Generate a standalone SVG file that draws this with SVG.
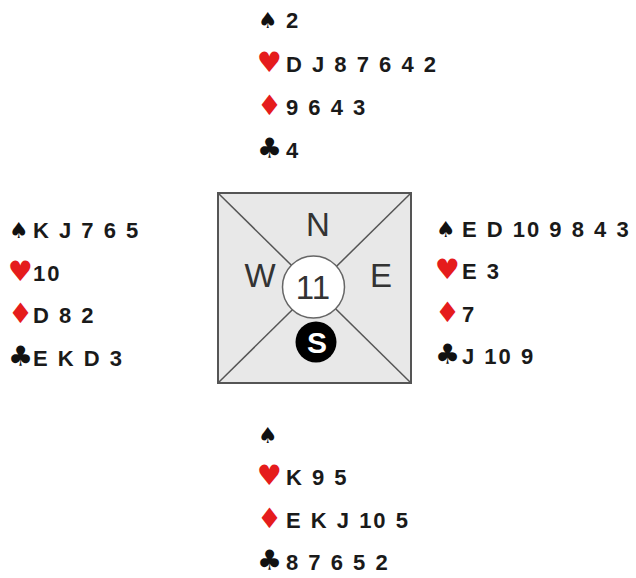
<svg xmlns="http://www.w3.org/2000/svg" width="636" height="578" viewBox="0 0 636 578">
<style>
.card{font-family:"Liberation Sans",Arial,sans-serif;font-weight:bold;font-size:22px;letter-spacing:2px;fill:#1a1a1a}
.suit{font-family:"DejaVu Sans","Liberation Sans",sans-serif;font-size:28px}
.sp{font-size:22px}
.blk{fill:#111}
.red{fill:#e51c1c}
.big{font-family:"Liberation Sans",Arial,sans-serif;font-size:33px;fill:#333}
.diag{stroke:#555;stroke-width:1.5}
</style>
<rect width="636" height="578" fill="#fff"/>
<g id="table">
<rect x="218" y="193" width="193" height="190" fill="#e8e8e8" stroke="#555" stroke-width="2"/>
<g id="connectors">
<line class="diag" x1="218" y1="193" x2="411" y2="383"/>
<line class="diag" x1="411" y1="193" x2="218" y2="383"/>
</g>
<circle cx="313.5" cy="287" r="31" fill="#fff" stroke="#666" stroke-width="1.5"/>
<text class="big" x="318" y="236" text-anchor="middle">N</text>
<text class="big" x="260" y="287" text-anchor="middle">W</text>
<text class="big" x="381" y="287" text-anchor="middle">E</text>
<text class="big" x="313" y="299" text-anchor="middle">11</text>
<circle cx="316" cy="342" r="20.5" fill="#000"/>
<text x="317" y="353" text-anchor="middle" font-family="Liberation Sans,Arial,sans-serif" font-weight="bold" font-size="30" fill="#fff">S</text>
</g>
<g id="north">
<text class="suit sp blk" x="258" y="28">♠</text><text class="card" x="286" y="28">2</text>
<text class="suit red" x="257" y="72">♥</text><text class="card" x="286" y="72">D J 8 7 6 4 2</text>
<text class="suit red" x="257" y="115">♦</text><text class="card" x="286" y="115">9 6 4 3</text>
<text class="suit blk" x="257" y="158">♣</text><text class="card" x="286" y="158">4</text>
</g>
<g id="west">
<text class="suit sp blk" x="9" y="238">♠</text><text class="card" x="33" y="238">K J 7 6 5</text>
<text class="suit red" x="8" y="281">♥</text><text class="card" x="33" y="281">10</text>
<text class="suit red" x="8" y="323">♦</text><text class="card" x="33" y="323">D 8 2</text>
<text class="suit blk" x="8" y="366">♣</text><text class="card" x="33" y="366">E K D 3</text>
</g>
<g id="east">
<text class="suit sp blk" x="436" y="237">♠</text><text class="card" x="462" y="237">E D 10 9 8 4 3</text>
<text class="suit red" x="435" y="279">♥</text><text class="card" x="462" y="279">E 3</text>
<text class="suit red" x="435" y="322">♦</text><text class="card" x="462" y="322">7</text>
<text class="suit blk" x="435" y="364">♣</text><text class="card" x="462" y="364">J 10 9</text>
</g>
<g id="south">
<text class="suit sp blk" x="258" y="443">♠</text>
<text class="suit red" x="257" y="485">♥</text><text class="card" x="286" y="485">K 9 5</text>
<text class="suit red" x="257" y="528">♦</text><text class="card" x="286" y="528">E K J 10 5</text>
<text class="suit blk" x="257" y="570">♣</text><text class="card" x="286" y="570">8 7 6 5 2</text>
</g>
</svg>
